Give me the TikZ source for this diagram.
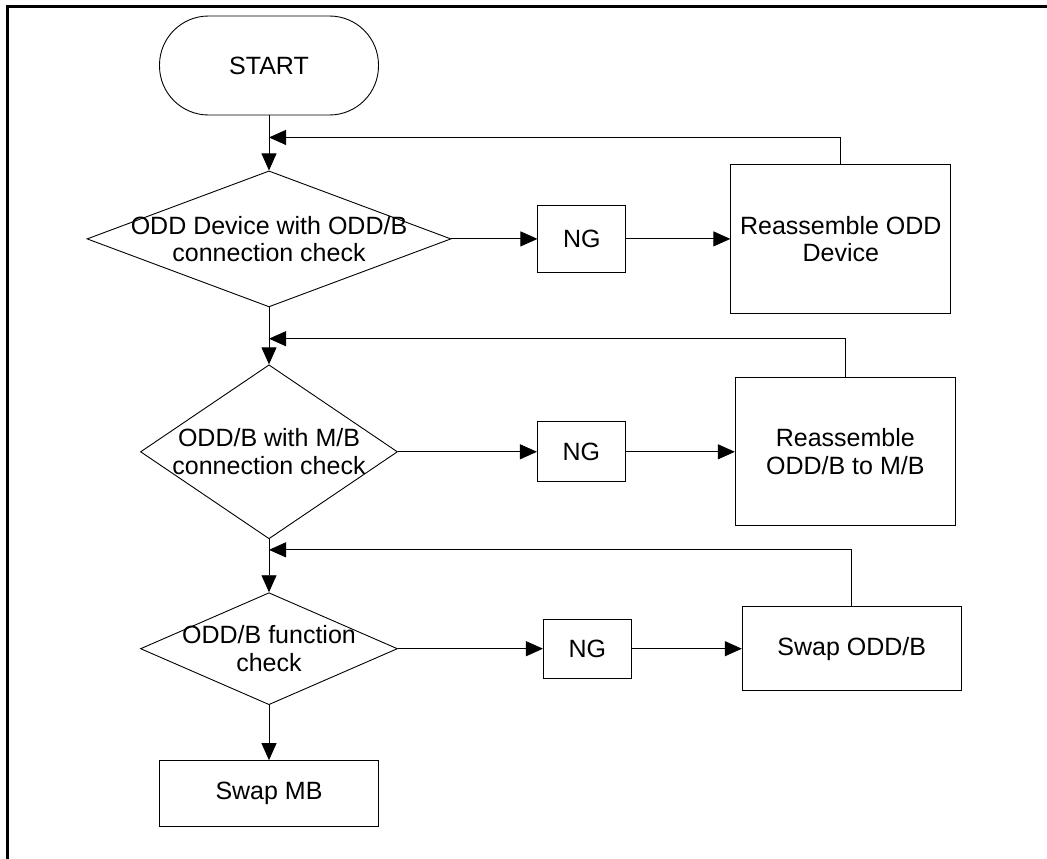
\documentclass[tikz,border=0pt]{standalone}
\usepackage{fontspec}
\setmainfont{Liberation Sans}
\usetikzlibrary{positioning,shapes.geometric,arrows.meta,calc}

\begin{document}
\begin{tikzpicture}[x=1pt, y=-1pt, node distance=55pt,
    font=\fontsize{25}{27.6}\selectfont, line width=0.9pt,
    box/.style={rectangle, draw, inner sep=0pt, align=center},
    check/.style={diamond, draw, inner sep=0pt},
    arr/.style={-{Triangle[length=17pt,width=15pt]}}]
    \useasboundingbox (0,0) rectangle (1047,859);
    \draw[line width=3pt] (7.5,859) |- (1047,6.5);

    \node[box, rounded corners=49pt, minimum width=219pt, minimum height=99pt] (start) at (269,65.5) {START};

    \node[check, minimum width=364pt, minimum height=136pt, below=55pt of start] (chk1) {};
    \node[align=center] (chk1txt) at (chk1) {ODD Device with ODD/B\\connection check};
    \node[box, minimum width=88pt, minimum height=67pt, right=86pt of chk1] (ng1) {NG};
    \node[box, minimum width=220pt, minimum height=149pt, right=104pt of ng1] (fix1) {Reassemble ODD\\Device};

    \node[check, minimum width=257pt, minimum height=174pt, below=57pt of chk1] (chk2) {};
    \node[align=center] (chk2txt) at (chk2) {ODD/B with M/B\\connection check};
    \node[box, minimum width=88pt, minimum height=60pt, right=139pt of chk2] (ng2) {NG};
    \node[box, minimum width=220pt, minimum height=148pt, right=109pt of ng2] (fix2) {Reassemble\\ODD/B to M/B};

    \node[check, minimum width=257pt, minimum height=112pt, below=53pt of chk2] (chk3) {};
    \node[align=center] (chk3txt) at (chk3) {ODD/B function\\check};
    \node[box, minimum width=88pt, minimum height=59pt, right=145pt of chk3] (ng3) {NG};
    \node[box, minimum width=219pt, minimum height=84pt, right=110pt of ng3] (fix3) {Swap ODD/B};

    \node[box, minimum width=219pt, minimum height=66pt, below=55pt of chk3] (swapmb) {Swap MB};

    \draw[arr] (start) -- (chk1);
    \draw[arr] (chk1) -- (chk2);
    \draw[arr] (chk2) -- (chk3);
    \draw[arr] (chk3) -- (swapmb);

    \draw[arr] (chk1) -- (ng1);
    \draw[arr] (ng1) -- (fix1);
    \draw[arr] (chk2) -- (ng2);
    \draw[arr] (ng2) -- (fix2);
    \draw[arr] (chk3) -- (ng3);
    \draw[arr] (ng3) -- (fix3);

    \coordinate (back1) at ($(start.south)!0.4!(chk1.north)$);
    \coordinate (back2) at ($(chk1.south)!0.55!(chk2.north)$);
    \coordinate (back3) at ($(chk2.south)!0.2!(chk3.north)$);
    \draw[arr] (fix1.north) |- (back1);
    \draw[arr] (fix2.north) |- (back2);
    \draw[arr] (fix3.north) |- (back3);
\end{tikzpicture}
\end{document}
